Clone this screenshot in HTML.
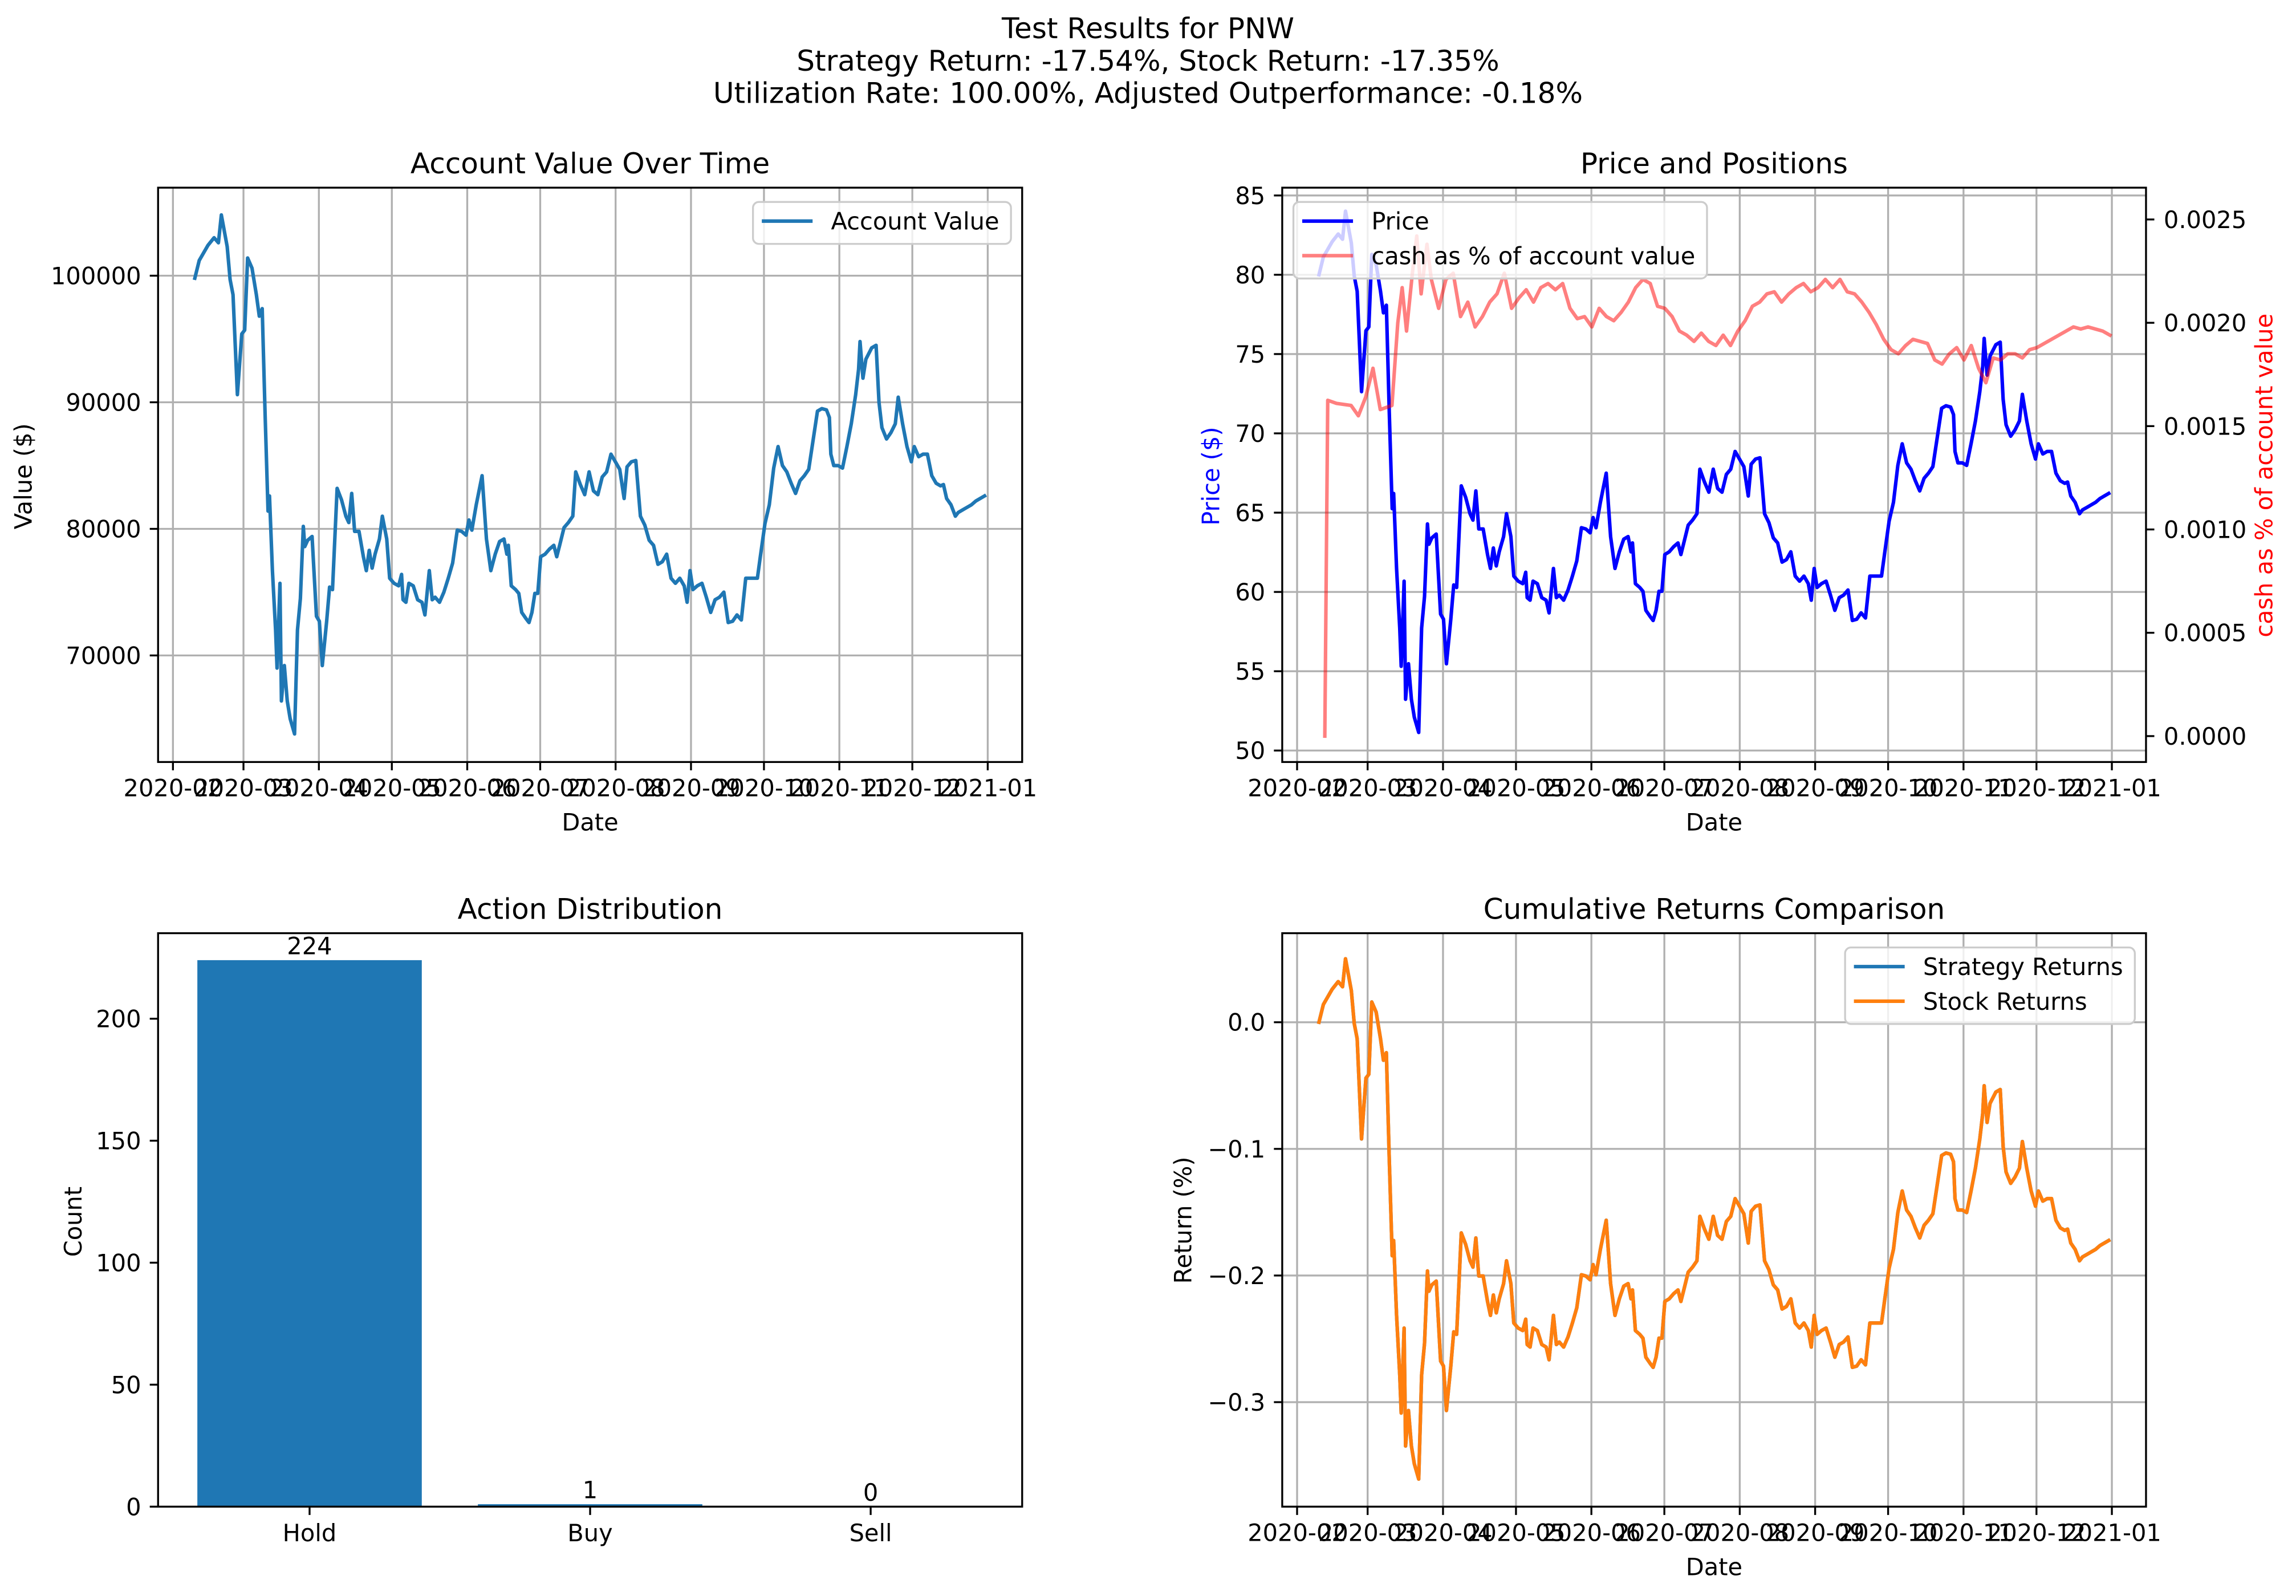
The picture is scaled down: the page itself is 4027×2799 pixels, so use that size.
<!DOCTYPE html>
<html><head><meta charset="utf-8">
<style>
html,body{margin:0;padding:0;background:#fff;}
svg{display:block;font-family:"DejaVu Sans","Liberation Sans",sans-serif;}
</style></head>
<body>
<svg id="fig" width="4027" height="2799" viewBox="0 0 1560 1084.3" xmlns="http://www.w3.org/2000/svg">
<rect x="0" y="0" width="1560" height="1084.3" fill="#fff"/>
<g font-size="19.4" text-anchor="middle" fill="#000">
<text x="780" y="26">Test Results for PNW</text>
<text x="780" y="48">Strategy Return: -17.54%, Stock Return: -17.35%</text>
<text x="780" y="70">Utilization Rate: 100.00%, Adjusted Outperformance: -0.18%</text>
</g>
<g id="root"></g>
</svg>
<script>
// ---- data ----
const accountDays=[40.0,41.8,45.4,47.9,49.7,50.9,53.3,54.5,55.7,57.5,59.3,60.5,61.7,63.5,65.3,66.5,67.7,68.9,70.1,70.7,71.9,73.2,73.8,75.0,75.6,76.8,78.0,79.2,81.0,82.2,83.4,84.6,85.2,86.4,88.2,90.0,91.2,92.4,94.2,95.4,96.6,98.5,100.3,102.1,103.3,104.5,105.7,107.5,109.3,110.5,111.7,112.9,114.1,115.9,117.1,118.9,120.1,121.9,123.8,125.0,125.6,126.8,128.0,129.8,131.6,133.4,134.6,136.4,137.6,138.8,140.6,142.4,144.2,146.0,147.9,149.7,151.5,152.7,153.9,155.7,158.1,159.9,161.7,163.5,165.3,167.1,168.3,168.9,170.1,171.9,173.2,174.4,176.2,177.4,178.6,179.8,181.0,182.2,184.0,185.8,187.6,188.8,190.0,191.8,193.6,195.4,196.6,198.5,200.3,202.1,203.9,205.7,207.5,209.3,211.1,212.9,214.7,216.5,217.7,219.5,221.3,223.2,225.0,226.8,228.6,230.4,232.2,234.0,235.8,237.6,239.4,241.2,242.4,243.6,244.8,246.6,248.5,250.3,252.1,253.9,255.7,257.5,259.3,261.1,262.9,264.7,266.5,268.3,270.1,271.3,272.5,274.4,276.2,278.0,279.8,281.6,283.4,285.2,287.0,288.8,290.6,292.4,294.2,296.0,297.8,299.7,300.9,301.5,302.7,304.5,306.3,308.1,309.9,311.7,312.9,313.5,314.7,315.9,318.3,320.1,321.3,322.5,324.4,326.2,328.0,329.2,331.0,332.8,334.6,335.8,337.6,339.4,341.2,343.0,344.8,346.6,347.8,349.1,350.9,352.7,353.9,355.7,357.5,359.3,361.1,362.9,364.7];
const accountValues=[99800,101200,102400,103000,102600,104800,102300,99700,98500,90600,95400,95700,101400,100600,98500,96800,97400,89000,81400,82600,76700,72000,69000,75700,66400,69200,66400,65000,63800,72000,74500,80200,78600,79100,79400,73100,72700,69200,72700,75400,75200,83200,82300,81000,80500,82800,79800,79800,77800,76700,78300,76900,78000,79200,81000,79200,76100,75700,75500,76400,74400,74200,75700,75500,74400,74200,73200,76700,74400,74600,74200,75000,76100,77300,79900,79800,79500,80700,79900,81900,84200,79200,76700,78000,79000,79200,78000,78700,75500,75200,74900,73400,72900,72600,73400,74900,74900,77800,78000,78400,78700,77800,78700,80100,80500,81000,84500,83500,82700,84500,83000,82700,84100,84500,85900,85300,84700,82400,84900,85300,85400,81000,80300,79100,78700,77200,77400,78000,76100,75700,76100,75500,74200,76700,75200,75500,75700,74600,73400,74400,74600,75000,72600,72700,73200,72800,76100,76100,76100,76100,77800,80400,81900,84800,86500,85000,84500,83600,82800,83800,84200,84700,87000,89300,89500,89400,88800,85900,85000,85000,84800,86500,88300,90600,92600,94800,91900,93400,94300,94500,90000,88000,87100,87600,88300,90400,88300,86500,85300,86500,85700,85900,85900,84200,83600,83400,83500,82400,81900,81000,81300,81500,81700,81900,82200,82400,82600];
const priceValues=accountValues.map(v=>+(v*80/99800).toFixed(2));
const cashDaysEarly=[42.4,43.6,47.2,53.2,56.2,59.2,62.2,65.2,70.0,72.4,74.2,76.0,78.4,80.2,82.0,84.4,86.2];
const cashValuesEarly=[0,0.001625,0.00161,0.0016,0.00155,0.00164,0.00178,0.00158,0.0016,0.002,0.00217,0.00196,0.00224,0.00242,0.00214,0.00238,0.00221];
const cashValuesLate=[0.00207,0.00221,0.00224,0.00203,0.0021,0.00198,0.00203,0.0021,0.00214,0.00224,0.00207,0.00212,0.00216,0.0021,0.00217,0.00219,0.00216,0.00219,0.00207,0.00202,0.00203,0.00198,0.00207,0.00203,0.00201,0.00205,0.0021,0.00217,0.00221,0.00219,0.00208,0.00207,0.00203,0.00196,0.00194,0.00191,0.00195,0.00191,0.00189,0.00194,0.00189,0.00196,0.00201,0.00208,0.0021,0.00214,0.00215,0.0021,0.00214,0.00217,0.00219,0.00215,0.00217,0.00221,0.00217,0.00221,0.00215,0.00214,0.0021,0.00205,0.00199,0.00192,0.00187,0.00185,0.00189,0.00192,0.00191,0.0019,0.00182,0.0018,0.00185,0.00188,0.00182,0.00189,0.00178,0.00171,0.00183,0.00182,0.00185,0.00185,0.00183,0.00187,0.00188,0.0019,0.00192,0.00194,0.00196,0.00198,0.00197,0.00198,0.00197,0.00196,0.00194];
const actionCategories=["Hold","Buy","Sell"];
const actionCounts=[224,1,0];
const monthTickDays=[31,60,91,121,152,182,213,244,274,305,335,366];
const monthTickLabels=["2020-02","2020-03","2020-04","2020-05","2020-06","2020-07","2020-08","2020-09","2020-10","2020-11","2020-12","2021-01"];
const valueTicks=[70000,80000,90000,100000];
const priceTicks=[50,55,60,65,70,75,80,85];
const cashTicks=[0,0.0005,0.001,0.0015,0.002,0.0025];
const countTicks=[0,50,100,150,200];
const returnTicks=[0,-0.1,-0.2,-0.3];

const cashDays=cashDaysEarly.concat(cashValuesLate.map((v,i)=>89.2+3*i));
const cashValues=cashValuesEarly.concat(cashValuesLate);
const strategyReturns=accountValues.map(v=>v/accountValues[0]-1);
const stockReturns=priceValues.map(v=>v/priceValues[0]-1);

const FS=16.1, TFS=19.4, LW=2.4, GW=1.29, TL=5.65;
// ---- helpers ----
const NS="http://www.w3.org/2000/svg";
const root=document.getElementById('root');
function el(tag,attrs,parent,text){const e=document.createElementNS(NS,tag);for(const k in attrs)e.setAttribute(k,attrs[k]);if(text!==undefined)e.textContent=text;(parent||root).appendChild(e);return e;}
function lin(d0,d1,r0,r1){return v=>r0+(v-d0)*(r1-r0)/(d1-d0);}
function path(xs,ys,fx,fy){return xs.map((x,i)=>(i?'L':'M')+fx(x).toFixed(2)+' '+fy(ys[i]).toFixed(2)).join(' ');}
function fmtRet(v){return (v<0?'\u2212':'')+Math.abs(v).toFixed(1);}
function fmtCash(v){return v.toFixed(4);}

function dateXAxis(g,fx,L,R,T,B,grid){
  monthTickDays.forEach((d,i)=>{
    const x=fx(d);
    if(grid){const gl=el('line',{x1:x,x2:x,y1:T,y2:B,stroke:'#b0b0b0','stroke-width':GW},g);
      }
    el('line',{x1:x,x2:x,y1:B,y2:B+TL,stroke:'#000','stroke-width':GW},g);
    const t=el('text',{x:x,y:B+23.3,'font-size':FS,'text-anchor':'middle'},g,monthTickLabels[i]);
    
  });
}
function yAxis(g,fy,ticks,L,R,grid,fmt,side){
  ticks.forEach(v=>{
    const y=fy(v);
    if(grid){const gl=el('line',{x1:L,x2:R,y1:y,y2:y,stroke:'#b0b0b0','stroke-width':GW},g);
      }
    if(side==='right'){
      el('line',{x1:R,x2:R+TL,y1:y,y2:y,stroke:'#000','stroke-width':GW},g);
      const t=el('text',{x:R+12,y:y+5.8,'font-size':FS,'text-anchor':'start'},g,fmt(v));
      
    }else{
      el('line',{x1:L-TL,x2:L,y1:y,y2:y,stroke:'#000','stroke-width':GW},g);
      const t=el('text',{x:L-11.5,y:y+5.8,'font-size':FS,'text-anchor':'end'},g,fmt(v));
      
    }
  });
}
function frame(g,L,R,T,B){el('rect',{x:L,y:T,width:R-L,height:B-T,fill:'none',stroke:'#000','stroke-width':GW},g);}
function title(g,x,y,s){const t=el('text',{x:x,y:y,'font-size':TFS,'text-anchor':'middle'},g,s);}
function label(g,x,y,s,rot,color,name){const t=el('text',{x:x,y:y,'font-size':FS,'text-anchor':'middle',fill:color||'#000',transform:rot?`rotate(-90 ${x} ${y})`:''},g,s);}
function legend(g,anchorX,y,alignRight,entries){
  const box=el('rect',{x:0,y:y,width:10,height:entries.length*23.5+5,rx:4,fill:'#fff','fill-opacity':0.8,stroke:'#cccccc','stroke-width':GW},g);
  
  const items=[];let maxW=0;
  entries.forEach((e,i)=>{
    const cy=y+13+i*23.5;
    const ln=el('line',{x1:0,x2:0,y1:cy,y2:cy,stroke:e.c,'stroke-width':LW,'stroke-opacity':e.o||1},g);
    
    const t=el('text',{x:0,y:cy+5.8,'font-size':FS},g,e.t);
    
    let w=0;try{w=t.getComputedTextLength();}catch(err){w=e.t.length*9;}
    if(!w)w=e.t.length*9;
    maxW=Math.max(maxW,w);items.push([ln,t]);
  });
  const W=53+maxW+8;
  const x=alignRight?anchorX-W:anchorX;
  box.setAttribute('x',x);box.setAttribute('width',W);
  items.forEach(([ln,t])=>{ln.setAttribute('x1',x+6);ln.setAttribute('x2',x+40.5);t.setAttribute('x',x+53);});
}

const TT=127.5, TB=517.7, BT=634, BB=1023.6;
// ---- panel 1: account value ----
(function(){
  const L=107.4,R=694.5,T=TT,B=TB;
  const g=el('g',{});
  const fx=lin(31,366,117.5,671.1), fy=lin(70000,100000,445.3,187.3);
  dateXAxis(g,fx,L,R,T,B,true);
  yAxis(g,fy,valueTicks,L,R,true,v=>String(v));
  const p=el('path',{d:path(accountDays,accountValues,fx,fy),fill:'none',stroke:'#1f77b4','stroke-width':LW,'stroke-linejoin':'round','stroke-linecap':'square'},g);
  
  frame(g,L,R,T,B);
  title(g,(L+R)/2,T-9.7,'Account Value Over Time');
  label(g,(L+R)/2,B+46.5,'Date',false,null,'x-axis-title');
  label(g,21.5,323.6,'Value ($)',true,null,'y-axis-title');
  legend(g,R-7.6,T+9.7,true,[{t:'Account Value',c:'#1f77b4'}]);
})();

// ---- panel 2: price and positions ----
(function(){
  const L=871.2,R=1458.1,T=TT,B=TB;
  const g=el('g',{});
  const fx=lin(31,366,881.3,1434.9), fy=lin(50,85,509.9,132.8), fy2=lin(0,0.0025,500.1,149.1);
  dateXAxis(g,fx,L,R,T,B,true);
  yAxis(g,fy,priceTicks,L,R,true,v=>String(v));
  yAxis(g,fy2,cashTicks,L,R,false,fmtCash,'right');
  const p=el('path',{d:path(accountDays,priceValues,fx,fy),fill:'none',stroke:'#0000ff','stroke-width':LW,'stroke-linejoin':'round','stroke-linecap':'square'},g);
  
  const c=el('path',{d:path(cashDays,cashValues,fx,fy2),fill:'none',stroke:'#ff0000','stroke-opacity':0.5,'stroke-width':LW,'stroke-linejoin':'round','stroke-linecap':'square'},g);
  
  frame(g,L,R,T,B);
  title(g,(L+R)/2,T-9.7,'Price and Positions');
  label(g,(L+R)/2,B+46.5,'Date',false,null,'x-axis-title');
  label(g,828.5,323.5,'Price ($)',true,'#0000ff','y-axis-title');
  label(g,1544,323,'cash as % of account value',true,'#ff0000','y2-axis-title');
  legend(g,L+7.6,T+9.7,false,[{t:'Price',c:'#0000ff'},{t:'cash as % of account value',c:'#ff0000',o:0.5}]);
})();

// ---- panel 3: action distribution ----
(function(){
  const L=107.4,R=694.5,T=BT,B=BB;
  const g=el('g',{});
  const fy=lin(0,200,B,692.1);
  const fx=lin(-0.54,2.54,L,R);
  const bw=fx(0.8)-fx(0);
  yAxis(g,fy,countTicks,L,R,false,v=>String(v));
  actionCategories.forEach((cat,i)=>{
    const x=fx(i), y=fy(actionCounts[i]);
    const b=el('rect',{x:x-bw/2,y:y,width:bw,height:Math.max(0,B-y),fill:'#1f77b4'},g);
    
    const t=el('text',{x:x,y:y-4,'font-size':FS,'text-anchor':'middle'},g,String(actionCounts[i]));
    
    el('line',{x1:x,x2:x,y1:B,y2:B+TL,stroke:'#000','stroke-width':GW},g);
    const xl=el('text',{x:x,y:B+23.5,'font-size':FS,'text-anchor':'middle'},g,cat);
    
  });
  frame(g,L,R,T,B);
  title(g,(L+R)/2,T-9.7,'Action Distribution');
  label(g,55.4,830,'Count',true,null,'y-axis-title');
})();

// ---- panel 4: cumulative returns ----
(function(){
  const L=871.2,R=1458.1,T=BT,B=BB;
  const g=el('g',{});
  const fx=lin(31,366,881.3,1434.9), fy=lin(0,-0.3,694.5,952.6);
  dateXAxis(g,fx,L,R,T,B,true);
  yAxis(g,fy,returnTicks,L,R,true,fmtRet);
  const s=el('path',{d:path(accountDays,strategyReturns,fx,fy),fill:'none',stroke:'#1f77b4','stroke-width':LW,'stroke-linejoin':'round','stroke-linecap':'square'},g);
  
  const k=el('path',{d:path(accountDays,stockReturns,fx,fy),fill:'none',stroke:'#ff7f0e','stroke-width':LW,'stroke-linejoin':'round','stroke-linecap':'square'},g);
  
  frame(g,L,R,T,B);
  title(g,(L+R)/2,T-9.7,'Cumulative Returns Comparison');
  label(g,(L+R)/2,B+46.5,'Date',false,null,'x-axis-title');
  label(g,809.5,829,'Return (%)',true,null,'y-axis-title');
  legend(g,R-7.6,T+9.7,true,[{t:'Strategy Returns',c:'#1f77b4'},{t:'Stock Returns',c:'#ff7f0e'}]);
})();
</script>
</body></html>
